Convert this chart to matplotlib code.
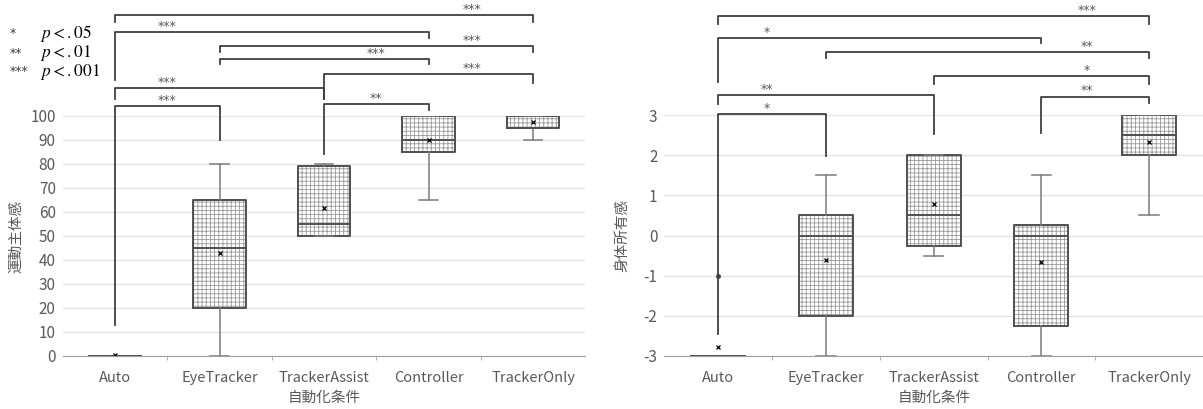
import matplotlib
matplotlib.use('Agg')
import matplotlib.pyplot as plt
from matplotlib.ticker import MultipleLocator, FixedLocator

plt.rcParams['font.family'] = ['Noto Sans CJK JP', 'DejaVu Sans']
plt.rcParams['mathtext.fontset'] = 'stix'
plt.rcParams['axes.unicode_minus'] = False
plt.rcParams['hatch.linewidth'] = 0.6

conditions = ['Auto', 'EyeTracker', 'TrackerAssist', 'Controller', 'TrackerOnly']

# 運動主体感 (box stats)
agency_low = [0, 0, 50, 65, 90]
agency_q1 = [0, 20, 50, 85, 95]
agency_med = [0, 45, 55, 90, 95]
agency_q3 = [0, 65, 79, 100, 100]
agency_high = [0, 80, 80, 100, 100]
agency_mean = [0.5, 43, 61.5, 90, 97.5]
agency_fliers = [[], [], [], [], []]

# 身体所有感
own_low = [-3, -3, -0.5, -3, 0.5]
own_q1 = [-3, -2, -0.25, -2.25, 2]
own_med = [-3, 0, 0.5, 0, 2.5]
own_q3 = [-3, 0.5, 2, 0.25, 3]
own_high = [-3, 1.5, 2, 1.5, 3]
own_mean = [-2.78, -0.6, 0.78, -0.67, 2.33]
own_fliers = [[-1], [], [], [], []]

# significance brackets: (from, to, bar height, left leg end, right leg end, stars, star x)
agency_brackets = [
    (0, 4, 142.0, 139.0, 139.0, '***', 3.42),
    (0, 3, 135.0, 115.0, 132.5, '***', 0.5),
    (1, 4, 129.0, 126.5, 126.5, '***', 3.42),
    (1, 3, 123.7, 121.7, 121.7, '***', 2.5),
    (2, 4, 117.5, 107.0, 113.7, '***', 3.42),
    (0, 2, 111.7, 107.0, 107.0, '***', 0.5),
    (0, 1, 104.0, 13.0, 90.0, '***', 0.5),
    (2, 3, 105.0, 84.0, 102.5, '**', 2.5),
]
own_brackets = [
    (0, 4, 5.47, 5.26, 5.26, '***', 3.42),
    (0, 3, 4.92, 3.82, 4.80, '*', 0.45),
    (1, 4, 4.57, 4.42, 4.42, '**', 3.42),
    (2, 4, 3.98, 3.77, 3.77, '*', 3.42),
    (0, 2, 3.50, 3.27, 2.53, '**', 0.45),
    (0, 1, 3.02, -2.45, 1.98, '*', 0.45),
    (3, 4, 3.46, 2.55, 3.30, '**', 3.42),
]

GRAY = '#595959'


def draw_panel(ax, low, q1, med, q3, high, mean, fliers, ylim, ystep, ylabel, brackets, ylab_x):
    stats = []
    for k, c in enumerate(conditions):
        stats.append(dict(label=c, whislo=low[k], q1=q1[k], med=med[k], q3=q3[k],
                          whishi=high[k], mean=mean[k], fliers=fliers[k]))
    pos = list(range(len(conditions)))

    # hatched fill
    ax.bxp(stats, positions=pos, widths=0.5, patch_artist=True, showcaps=False,
           showfliers=False, boxprops=dict(facecolor='white', edgecolor='#9a9a9a',
                                           hatch='++++', linewidth=0),
           whiskerprops=dict(linewidth=0), medianprops=dict(linewidth=0))
    # outlines, whiskers, means
    ax.bxp(stats, positions=pos, widths=0.5, showmeans=True, capwidths=0.18,
           boxprops=dict(color='#505050', linewidth=1.4),
           medianprops=dict(color='#505050', linewidth=1.4),
           whiskerprops=dict(color='#7a7a7a', linewidth=1.1),
           capprops=dict(color='#7a7a7a', linewidth=1.1),
           meanprops=dict(marker='x', markeredgecolor='black', markersize=3.5,
                          markeredgewidth=0.9),
           flierprops=dict(marker='o', markerfacecolor='#404040', markeredgecolor='#404040',
                           markersize=2.5))

    for i, j, y, le, re, lab, lx in brackets:
        ax.plot([i, i, j, j], [le, y, y, re], color='#404040', lw=1.3,
                clip_on=False, zorder=5)
        ax.annotate(lab, (lx, y), xytext=(0, 4), textcoords='offset points',
                    ha='center', va='center', fontsize=9, color=GRAY,
                    family='DejaVu Sans', annotation_clip=False)

    ax.set_xlim(-0.5, len(conditions) - 0.5)
    ax.set_ylim(*ylim)
    ax.yaxis.set_major_locator(MultipleLocator(ystep))
    ax.yaxis.set_major_formatter(lambda v, p: f'{v:g}')
    ax.set_xticks(pos)
    ax.set_xticklabels(conditions)
    ax.xaxis.set_minor_locator(FixedLocator([0.5, 1.5, 2.5, 3.5]))
    ax.tick_params(axis='x', which='major', length=0, pad=11, labelsize=10.5, labelcolor=GRAY)
    ax.tick_params(axis='x', which='minor', length=3, color='#a0a0a0', direction='out')
    ax.tick_params(axis='y', length=0, pad=5, labelsize=11, labelcolor=GRAY)
    for s in ['top', 'right', 'left']:
        ax.spines[s].set_visible(False)
    ax.spines['bottom'].set_color('#a0a0a0')
    ax.grid(axis='y', color='#e3e3e3', linewidth=0.9)
    ax.set_axisbelow(True)
    ax.set_xlabel('自動化条件', fontsize=10.5, color=GRAY)
    ax.xaxis.set_label_coords(0.5, -0.145)
    ax.set_ylabel(ylabel, fontsize=10.5, color=GRAY)
    ax.yaxis.set_label_coords(ylab_x, 0.5)


fig = plt.figure(figsize=(12.03, 4.09), dpi=100)
axL = fig.add_axes([62.75 / 1203, 53 / 409, 522.5 / 1203, 240 / 409])
axR = fig.add_axes([664.4 / 1203, 53 / 409, 538.6 / 1203, 241 / 409])

draw_panel(axL, agency_low, agency_q1, agency_med, agency_q3, agency_high, agency_mean,
           agency_fliers, (0, 100), 10, '運動主体感', agency_brackets, -0.075)
draw_panel(axR, own_low, own_q1, own_med, own_q3, own_high, own_mean,
           own_fliers, (-3, 3), 1, '身体所有感', own_brackets, -0.065)

# significance key
key_stars = ['*', '**', '***']
key_p = [r'$p<.05$', r'$p<.01$', r'$p<.001$']
key_y = [33, 53, 72]
for st, pt, yy in zip(key_stars, key_p, key_y):
    fig.text(10 / 1203, 1 - yy / 409, st, fontsize=9, color='#404040', va='center',
             family='DejaVu Sans')
    fig.text(40 / 1203, 1 - yy / 409, pt, fontsize=12.5, color='black', va='center')

fig.savefig('out.png', dpi=100)
